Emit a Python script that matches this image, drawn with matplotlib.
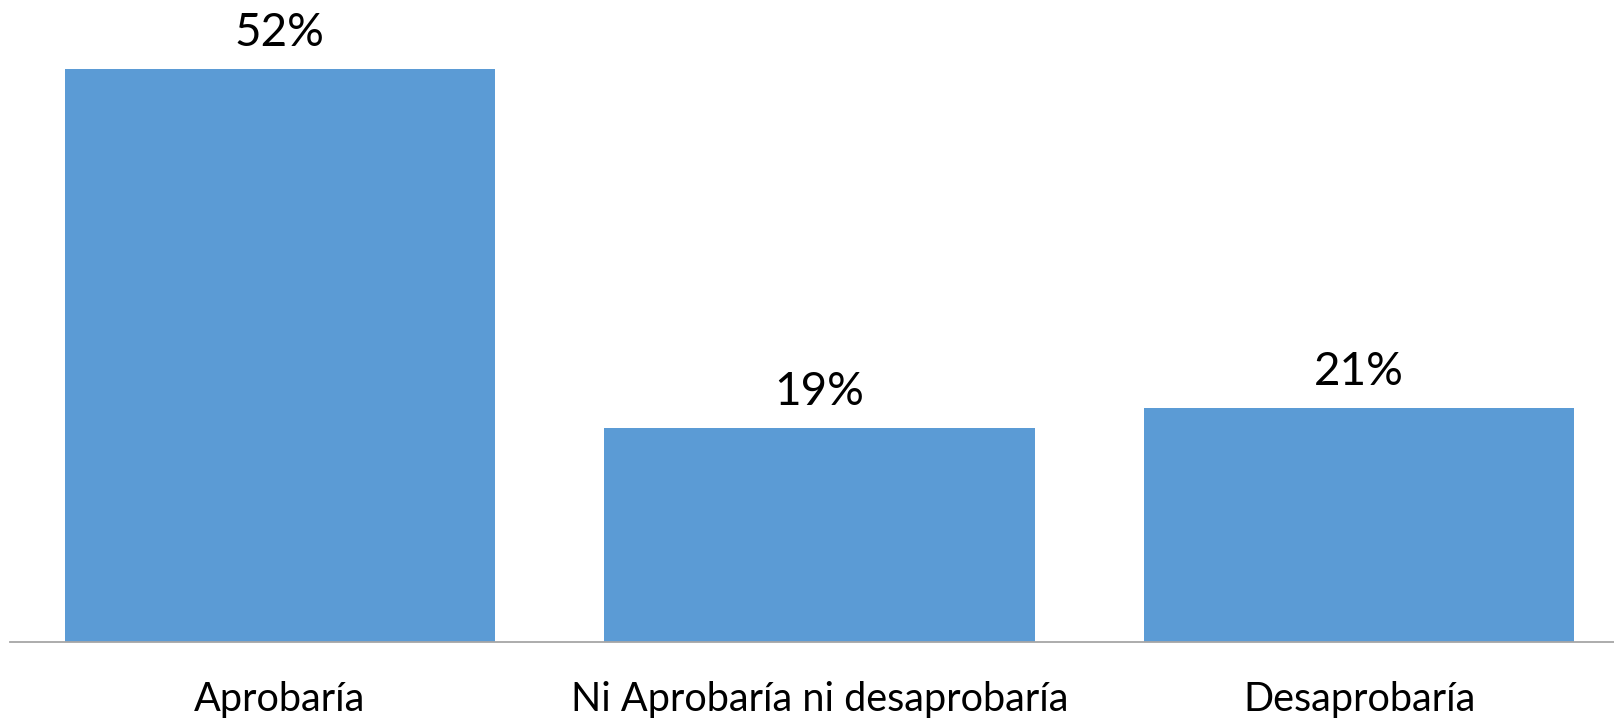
import matplotlib
matplotlib.use("Agg")
import matplotlib.pyplot as plt
import numpy as np

categories = ["Aprobaría", "Ni Aprobaría ni desaprobaría", "Desaprobaría"]
values = [52, 19.4, 21.2]
value_labels = ["52%", "19%", "21%"]

BAR_COLOR = "#5B9BD5"
AXIS_COLOR = "#A6A6A6"
W, H, DPI = 1615, 718, 100

plt.rcParams["font.family"] = ["Lato", "DejaVu Sans"]

fig = plt.figure(figsize=(W / DPI, H / DPI), dpi=DPI)
ax = fig.add_axes([10 / W, (H - 642) / H, (W - 10) / W, 642 / H])

x = np.arange(len(categories))
ax.bar(x, values, width=0.797, color=BAR_COLOR)

ax.set_xlim(-0.5, 2.474)
ax.set_ylim(0, 58.26)

for xi, v, lab in zip(x, values, value_labels):
    ax.annotate(lab, xy=(xi, v), xytext=(0, 16.6), textcoords="offset points",
                ha="center", va="baseline", fontsize=33, color="black")

for xi, cat in zip(x, categories):
    ax.annotate(cat, xy=(xi, 0), xytext=(0, -49.7), textcoords="offset points",
                ha="center", va="baseline", fontsize=28.5, color="black",
                annotation_clip=False)

for s in ["top", "right", "left"]:
    ax.spines[s].set_visible(False)
ax.spines["bottom"].set_color(AXIS_COLOR)
ax.spines["bottom"].set_linewidth(1.3)
ax.set_xticks([])
ax.set_yticks([])

fig.savefig("out.png", dpi=DPI)
